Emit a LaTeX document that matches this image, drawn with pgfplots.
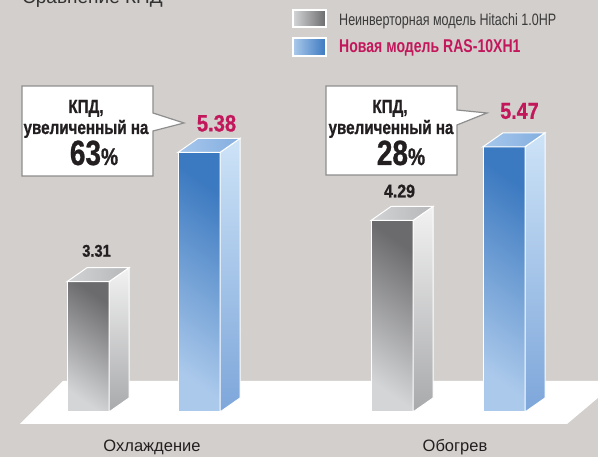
\documentclass[border=0pt]{standalone}
\usepackage{pgfplots}
\pgfplotsset{compat=1.18}
\usepackage{fontspec}
\setmainfont{Liberation Sans}
\newfontfamily\condA[FakeStretch=0.76]{Liberation Sans}
\newfontfamily\condB[FakeStretch=0.80,FakeBold=0.8]{Liberation Sans}
\newfontfamily\condC[FakeStretch=0.86,FakeBold=0.8]{Liberation Sans}
\definecolor{bgc}{HTML}{D3CFCC}
\definecolor{crim}{HTML}{C3175B}
\definecolor{txt}{HTML}{231F20}
\definecolor{legtxt}{HTML}{3A3A3A}
\definecolor{boxline}{HTML}{8E8E8E}
\definecolor{gFD}{HTML}{6B6B6D}
\definecolor{gFL}{HTML}{D4D5D7}
\definecolor{gST}{HTML}{F2F2F2}
\definecolor{gSB}{HTML}{A8A9AB}
\definecolor{gTL}{HTML}{D2D3D5}
\definecolor{gTR}{HTML}{B6B7B9}
\definecolor{bFD}{HTML}{3B79C0}
\definecolor{bFL}{HTML}{ABC9EB}
\definecolor{bST}{HTML}{CDE3F7}
\definecolor{bSB}{HTML}{7DA6DA}
\definecolor{bTL}{HTML}{A6C7EC}
\definecolor{bTR}{HTML}{84AEDF}
\begin{document}
\begin{tikzpicture}[x=1pt,y=1pt]
\useasboundingbox (0,0) rectangle (598,457);
\clip (0,0) rectangle (598,457);
\fill[bgc] (0,0) rectangle (598,457);
% floor (pixel coordinates, y down)
\begin{scope}[shift={(0,457)}, x=1pt, y=-1pt]
\fill[white] (20,424) -- (63,381) -- (618,381) -- (567,424) -- cycle;
\end{scope}
\begin{axis}[
  at={(0,0)}, anchor=south west,
  scale only axis, width=598pt, height=457pt,
  xmin=0, xmax=598, ymin=0.5035, ymax=7.8202,
  hide axis, clip=false,
  gfront/.style={draw=white, line width=1pt, mark=none, top color=gFD, bottom color=gFL, shading angle=-35},
  gside/.style={draw=white, line width=1pt, mark=none, top color=gST, bottom color=gSB},
  gtop/.style={draw=white, line width=1pt, mark=none, left color=gTL, right color=gTR},
  bfront/.style={draw=white, line width=1pt, mark=none, top color=bFD, bottom color=bFL, shading angle=-35},
  bside/.style={draw=white, line width=1pt, mark=none, top color=bST, bottom color=bSB},
  btop/.style={draw=white, line width=1pt, mark=none, left color=bTL, right color=bTR},
]
% Cooling: non-inverter 3.31
\addplot[gfront] coordinates {(67,1.224) (109,1.224) (109,3.31) (67,3.31)} --cycle;
\addplot[gside] coordinates {(109,1.224) (129,1.448) (129,3.534) (109,3.31)} --cycle;
\addplot[gtop] coordinates {(67,3.31) (109,3.31) (129,3.534) (87,3.534)} --cycle;
% Cooling: RAS-10XH1 5.38
\addplot[bfront] coordinates {(178,1.224) (220,1.224) (220,5.38) (178,5.38)} --cycle;
\addplot[bside] coordinates {(220,1.224) (240,1.448) (240,5.604) (220,5.38)} --cycle;
\addplot[btop] coordinates {(178,5.38) (220,5.38) (240,5.604) (198,5.604)} --cycle;
% Heating: non-inverter 4.29
\addplot[gfront] coordinates {(371,1.224) (413,1.224) (413,4.29) (371,4.29)} --cycle;
\addplot[gside] coordinates {(413,1.224) (433,1.448) (433,4.514) (413,4.29)} --cycle;
\addplot[gtop] coordinates {(371,4.29) (413,4.29) (433,4.514) (391,4.514)} --cycle;
% Heating: RAS-10XH1 5.47
\addplot[bfront] coordinates {(483,1.224) (525,1.224) (525,5.47) (483,5.47)} --cycle;
\addplot[bside] coordinates {(525,1.224) (545,1.448) (545,5.694) (525,5.47)} --cycle;
\addplot[btop] coordinates {(483,5.47) (525,5.47) (545,5.694) (503,5.694)} --cycle;
% value labels
\node[anchor=base, inner sep=0, yshift=25pt, text=txt] at (axis cs:96.5,3.31) {\condC\bfseries\fontsize{17}{17}\selectfont 3.31};
\node[anchor=base, inner sep=0, yshift=21pt, text=crim] at (axis cs:216.5,5.38) {\condC\bfseries\fontsize{23.5}{23.5}\selectfont 5.38};
\node[anchor=base, inner sep=0, yshift=23pt, text=txt] at (axis cs:399.5,4.29) {\condC\bfseries\fontsize{18.5}{18.5}\selectfont 4.29};
\node[anchor=base, inner sep=0, yshift=28pt, text=crim] at (axis cs:519.5,5.47) {\condC\bfseries\fontsize{23}{23}\selectfont 5.47};
\end{axis}
% decorations in pixel coordinates
\begin{scope}[shift={(0,457)}, x=1pt, y=-1pt]
% title (cut at top, as in the reference)
\node[anchor=base west, inner sep=0, text=black!80] at (22,4) {\fontsize{19}{19}\selectfont Сравнение КПД};
% legend
\draw[white, line width=1.5pt, left color=gFL, right color=gFD] (293,10) rectangle (326,27);
\draw[white, line width=1.5pt, left color=bFL, right color=bFD] (293,38) rectangle (326,56);
\node[anchor=base west, inner sep=0, text=legtxt] at (339,25.5) {\condA\fontsize{16.5}{16.5}\selectfont Неинверторная модель Hitachi 1.0HP};
\node[anchor=base west, inner sep=0, text=crim] at (339,53) {\condA\bfseries\fontsize{18.5}{18.5}\selectfont Новая модель RAS-10XH1};
% callouts
\draw[boxline, line width=1.2pt, fill=white] (22,86) -- (153,86) -- (153,113) -- (184,123) -- (153,131) -- (153,176) -- (22,176) -- cycle;
\draw[boxline, line width=1.2pt, fill=white] (326,86) -- (457,86) -- (457,110) -- (487,113) -- (457,125) -- (457,175) -- (326,175) -- cycle;
\node[anchor=base, inner sep=0, text=txt] at (86,113) {\condB\bfseries\fontsize{19}{19}\selectfont КПД,};
\node[anchor=base, inner sep=0, text=txt] at (86,134) {\condB\bfseries\fontsize{19}{19}\selectfont увеличенный на};
\node[anchor=base, inner sep=0, text=txt] at (94,165) {\condB\bfseries\fontsize{35}{35}\selectfont 63\fontsize{24}{24}\selectfont\%};
\node[anchor=base, inner sep=0, text=txt] at (390,113) {\condB\bfseries\fontsize{19}{19}\selectfont КПД,};
\node[anchor=base, inner sep=0, text=txt] at (391,134) {\condB\bfseries\fontsize{19}{19}\selectfont увеличенный на};
\node[anchor=base, inner sep=0, text=txt] at (401,165) {\condB\bfseries\fontsize{35}{35}\selectfont 28\fontsize{24}{24}\selectfont\%};
% category labels
\node[anchor=base, inner sep=0, text=txt] at (152,452) {\fontsize{16.5}{16.5}\selectfont Охлаждение};
\node[anchor=base, inner sep=0, text=txt] at (455,452) {\fontsize{16.5}{16.5}\selectfont Обогрев};
\end{scope}
\end{tikzpicture}
\end{document}
